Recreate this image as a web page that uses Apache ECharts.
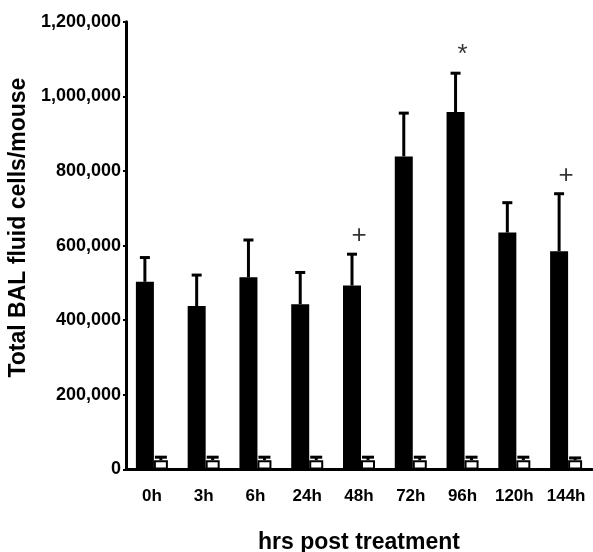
<!DOCTYPE html>
<html>
<head>
<meta charset="utf-8">
<script src="https://cdn.jsdelivr.net/npm/echarts@6/dist/echarts.min.js"></script>
<style>html,body{margin:0;padding:0;background:#fff}#c{width:593px;height:552px}</style>
</head>
<body>
<div id="c"></div>
<script>
var categories = ['0h','3h','6h','24h','48h','72h','96h','120h','144h'];
var blackMeans = [503000, 438000, 515000, 443000, 493000, 839000, 958000, 635000, 585000];
var blackErrs  = [65000, 83000, 100000, 85000, 84000, 116000, 104000, 80000, 154000];
var whiteMeans = [25000, 25000, 25000, 25000, 25000, 25000, 25000, 25000, 25000];
var whiteErrs  = [8000, 8000, 8000, 8000, 8000, 8000, 8000, 8000, 6000];
var sigMarks   = ['', '', '', '', '+', '', '*', '', '+'];
var yTicks = [0, 200000, 400000, 600000, 800000, 1000000, 1200000];

var BW_BLACK = 18, BW_WHITE = 14, FONT = 'Liberation Sans, Arial, Helvetica, sans-serif';
var totalW = BW_BLACK + BW_WHITE;
var offBlack = -totalW / 2 + BW_BLACK / 2;
var offWhite = -totalW / 2 + BW_BLACK + BW_WHITE / 2;

function errItem(offset, capW) {
  return function (params, api) {
    var i = api.value(0), m = api.value(1), e = api.value(2);
    var p0 = api.coord([i, m]);
    var p1 = api.coord([i, m + e]);
    var x = p0[0] + offset;
    return {
      type: 'group',
      children: [
        {type: 'line', shape: {x1: x, y1: p0[1], x2: x, y2: p1[1]}, style: {stroke: '#000', lineWidth: 3}},
        {type: 'line', shape: {x1: x - capW / 2, y1: p1[1], x2: x + capW / 2, y2: p1[1]}, style: {stroke: '#000', lineWidth: 3}}
      ]
    };
  };
}

var chart = echarts.init(document.getElementById('c'));
chart.setOption({
  animation: false,
  grid: {left: 126, right: 1, top: 21.7, bottom: 82.5, containLabel: false, outerBoundsMode: 'none'},
  xAxis: {
    type: 'category', data: categories,
    axisLine: {lineStyle: {color: '#000', width: 3}},
    axisTick: {show: false},
    axisLabel: {interval: 0, color: '#000', fontFamily: FONT, fontWeight: 'bold', fontSize: 17, margin: 18},
    name: 'hrs post treatment', nameLocation: 'middle', nameGap: 62,
    nameTextStyle: {color: '#000', fontFamily: FONT, fontWeight: 'bold', fontSize: 23}
  },
  yAxis: {
    type: 'value', min: yTicks[0], max: yTicks[yTicks.length - 1], interval: yTicks[1] - yTicks[0],
    splitLine: {show: false},
    axisLine: {show: true, lineStyle: {color: '#000', width: 3}},
    axisTick: {show: true, length: 3, lineStyle: {color: '#000', width: 2}},
    axisLabel: {color: '#000', fontFamily: FONT, fontWeight: 'bold', fontSize: 18, margin: 5,
      formatter: function (v) { return v.toLocaleString('en-US'); }},
    name: 'Total BAL fluid cells/mouse', nameLocation: 'middle', nameGap: 90,
    nameTextStyle: {color: '#000', fontFamily: FONT, fontWeight: 'bold', fontSize: 23, padding: [0, 0, 0, 36]}
  },
  series: [
    {type: 'bar', data: blackMeans, barWidth: BW_BLACK, barGap: '0%', itemStyle: {color: '#000'}, z: 2},
    {type: 'bar', data: whiteMeans, barWidth: BW_WHITE, barGap: '0%', itemStyle: {color: '#fff', borderColor: '#000', borderWidth: 2}, z: 2},
    {type: 'custom', renderItem: errItem(offBlack, 10), z: 3,
      data: categories.map(function (c, i) { return [i, blackMeans[i], blackErrs[i]]; })},
    {type: 'custom', renderItem: errItem(offWhite, 12), z: 3,
      data: categories.map(function (c, i) { return [i, whiteMeans[i], whiteErrs[i]]; })},
    {type: 'scatter', symbolSize: 0, z: 4,
      data: categories.map(function (c, i) {
        return sigMarks[i] ? {value: [i, blackMeans[i] + blackErrs[i]], mark: sigMarks[i]} : {value: [i, null]};
      }),
      label: {show: true, position: 'top', distance: 5, color: '#000', fontFamily: FONT, fontSize: 26,
        formatter: function (p) { return p.data.mark || ''; }}
    }
  ]
});
</script>
</body>
</html>
